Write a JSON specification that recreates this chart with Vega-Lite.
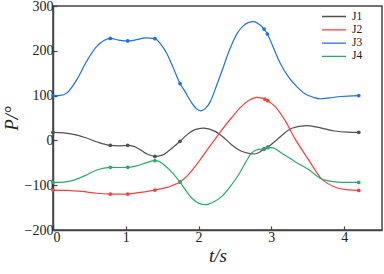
{
  "$schema": "https://vega.github.io/schema/vega-lite/v6.json",
  "autosize": {"type": "none"},
  "padding": {"left": 53, "top": 6, "right": 2, "bottom": 44},
  "width": 329,
  "height": 224,
  "config": {
    "font": "Times New Roman",
    "view": {"stroke": "#444444", "strokeWidth": 1.5},
    "axis": {
      "labelFont": "Times New Roman",
      "titleFont": "Times New Roman",
      "labelFontSize": 14,
      "titleFontSize": 19,
      "titleFontWeight": "normal",
      "titleFontStyle": "italic",
      "labelColor": "#222222",
      "titleColor": "#222222",
      "domainColor": "#444444",
      "domainWidth": 1.5,
      "tickColor": "#444444",
      "tickWidth": 1.2,
      "tickSize": -4,
      "grid": false
    },
    "legend": {
      "labelFont": "Times New Roman",
      "labelFontSize": 11.5,
      "labelColor": "#222222"
    }
  },
  "datasets": {
    "curve": [
      {"t": 0, "P": 18, "joint": "J1"}, {"t": 0.15, "P": 17, "joint": "J1"}, {"t": 0.3, "P": 13, "joint": "J1"}, {"t": 0.45, "P": 6, "joint": "J1"}, {"t": 0.6, "P": -3, "joint": "J1"}, {"t": 0.787, "P": -11, "joint": "J1"}, {"t": 0.9, "P": -12, "joint": "J1"}, {"t": 1.026, "P": -11, "joint": "J1"}, {"t": 1.12, "P": -14, "joint": "J1"}, {"t": 1.2, "P": -21, "joint": "J1"}, {"t": 1.3, "P": -31, "joint": "J1"}, {"t": 1.4, "P": -35.7, "joint": "J1"}, {"t": 1.5, "P": -33, "joint": "J1"}, {"t": 1.6, "P": -22, "joint": "J1"}, {"t": 1.745, "P": -2, "joint": "J1"}, {"t": 1.85, "P": 14, "joint": "J1"}, {"t": 1.95, "P": 24, "joint": "J1"}, {"t": 2.06, "P": 27.6, "joint": "J1"}, {"t": 2.15, "P": 25, "joint": "J1"}, {"t": 2.29, "P": 14, "joint": "J1"}, {"t": 2.45, "P": -9, "joint": "J1"}, {"t": 2.55, "P": -21, "joint": "J1"}, {"t": 2.64, "P": -27, "joint": "J1"}, {"t": 2.77, "P": -30.4, "joint": "J1"}, {"t": 2.85, "P": -25, "joint": "J1"}, {"t": 2.9, "P": -19, "joint": "J1"}, {"t": 2.95, "P": -15, "joint": "J1"}, {"t": 3.05, "P": -2, "joint": "J1"}, {"t": 3.15, "P": 12, "joint": "J1"}, {"t": 3.28, "P": 27, "joint": "J1"}, {"t": 3.48, "P": 33, "joint": "J1"}, {"t": 3.65, "P": 29, "joint": "J1"}, {"t": 3.87, "P": 21, "joint": "J1"}, {"t": 4.05, "P": 18.5, "joint": "J1"}, {"t": 4.2, "P": 18, "joint": "J1"},
      {"t": 0, "P": -110.8, "joint": "J2"}, {"t": 0.2, "P": -111.5, "joint": "J2"}, {"t": 0.4, "P": -114, "joint": "J2"}, {"t": 0.6, "P": -118, "joint": "J2"}, {"t": 0.787, "P": -119.7, "joint": "J2"}, {"t": 0.9, "P": -120, "joint": "J2"}, {"t": 1.026, "P": -119.7, "joint": "J2"}, {"t": 1.2, "P": -116, "joint": "J2"}, {"t": 1.4, "P": -110.8, "joint": "J2"}, {"t": 1.54, "P": -106, "joint": "J2"}, {"t": 1.65, "P": -100, "joint": "J2"}, {"t": 1.745, "P": -92.9, "joint": "J2"}, {"t": 1.85, "P": -78, "joint": "J2"}, {"t": 2.0, "P": -48, "joint": "J2"}, {"t": 2.15, "P": -14, "joint": "J2"}, {"t": 2.29, "P": 17, "joint": "J2"}, {"t": 2.45, "P": 50, "joint": "J2"}, {"t": 2.59, "P": 76, "joint": "J2"}, {"t": 2.7, "P": 90, "joint": "J2"}, {"t": 2.8, "P": 96, "joint": "J2"}, {"t": 2.87, "P": 94.5, "joint": "J2"}, {"t": 2.91, "P": 92.4, "joint": "J2"}, {"t": 2.95, "P": 88.6, "joint": "J2"}, {"t": 3.05, "P": 76, "joint": "J2"}, {"t": 3.19, "P": 44, "joint": "J2"}, {"t": 3.32, "P": 5, "joint": "J2"}, {"t": 3.51, "P": -43, "joint": "J2"}, {"t": 3.69, "P": -86, "joint": "J2"}, {"t": 3.87, "P": -104, "joint": "J2"}, {"t": 4.06, "P": -110.5, "joint": "J2"}, {"t": 4.2, "P": -111.6, "joint": "J2"},
      {"t": 0, "P": 100, "joint": "J3"}, {"t": 0.1, "P": 100.5, "joint": "J3"}, {"t": 0.19, "P": 106, "joint": "J3"}, {"t": 0.325, "P": 135, "joint": "J3"}, {"t": 0.46, "P": 176, "joint": "J3"}, {"t": 0.6, "P": 210, "joint": "J3"}, {"t": 0.7, "P": 223, "joint": "J3"}, {"t": 0.787, "P": 227.7, "joint": "J3"}, {"t": 0.9, "P": 224, "joint": "J3"}, {"t": 1.026, "P": 222, "joint": "J3"}, {"t": 1.15, "P": 225, "joint": "J3"}, {"t": 1.27, "P": 229, "joint": "J3"}, {"t": 1.4, "P": 227, "joint": "J3"}, {"t": 1.48, "P": 215, "joint": "J3"}, {"t": 1.56, "P": 195, "joint": "J3"}, {"t": 1.65, "P": 163, "joint": "J3"}, {"t": 1.745, "P": 127, "joint": "J3"}, {"t": 1.81, "P": 110, "joint": "J3"}, {"t": 1.905, "P": 84, "joint": "J3"}, {"t": 1.97, "P": 71, "joint": "J3"}, {"t": 2.03, "P": 66, "joint": "J3"}, {"t": 2.09, "P": 71, "joint": "J3"}, {"t": 2.16, "P": 86, "joint": "J3"}, {"t": 2.23, "P": 115, "joint": "J3"}, {"t": 2.31, "P": 150, "joint": "J3"}, {"t": 2.43, "P": 204, "joint": "J3"}, {"t": 2.53, "P": 239, "joint": "J3"}, {"t": 2.61, "P": 255, "joint": "J3"}, {"t": 2.68, "P": 263, "joint": "J3"}, {"t": 2.76, "P": 265, "joint": "J3"}, {"t": 2.84, "P": 258, "joint": "J3"}, {"t": 2.9, "P": 248.6, "joint": "J3"}, {"t": 2.945, "P": 237.5, "joint": "J3"}, {"t": 3.03, "P": 206, "joint": "J3"}, {"t": 3.12, "P": 173, "joint": "J3"}, {"t": 3.23, "P": 143, "joint": "J3"}, {"t": 3.35, "P": 120, "joint": "J3"}, {"t": 3.46, "P": 104, "joint": "J3"}, {"t": 3.58, "P": 96, "joint": "J3"}, {"t": 3.67, "P": 93, "joint": "J3"}, {"t": 3.8, "P": 95, "joint": "J3"}, {"t": 3.95, "P": 98, "joint": "J3"}, {"t": 4.2, "P": 100, "joint": "J3"},
      {"t": 0, "P": -93.7, "joint": "J4"}, {"t": 0.15, "P": -93, "joint": "J4"}, {"t": 0.3, "P": -88, "joint": "J4"}, {"t": 0.45, "P": -78, "joint": "J4"}, {"t": 0.6, "P": -66, "joint": "J4"}, {"t": 0.787, "P": -60, "joint": "J4"}, {"t": 0.9, "P": -60.5, "joint": "J4"}, {"t": 1.026, "P": -60, "joint": "J4"}, {"t": 1.15, "P": -57, "joint": "J4"}, {"t": 1.28, "P": -50, "joint": "J4"}, {"t": 1.4, "P": -45.3, "joint": "J4"}, {"t": 1.47, "P": -48, "joint": "J4"}, {"t": 1.54, "P": -56.5, "joint": "J4"}, {"t": 1.65, "P": -74, "joint": "J4"}, {"t": 1.745, "P": -92.9, "joint": "J4"}, {"t": 1.905, "P": -128.6, "joint": "J4"}, {"t": 2.0, "P": -140, "joint": "J4"}, {"t": 2.1, "P": -143.5, "joint": "J4"}, {"t": 2.2, "P": -138, "joint": "J4"}, {"t": 2.32, "P": -125, "joint": "J4"}, {"t": 2.45, "P": -100, "joint": "J4"}, {"t": 2.55, "P": -76.6, "joint": "J4"}, {"t": 2.65, "P": -48, "joint": "J4"}, {"t": 2.73, "P": -28, "joint": "J4"}, {"t": 2.82, "P": -20, "joint": "J4"}, {"t": 2.9, "P": -19.2, "joint": "J4"}, {"t": 2.95, "P": -16.3, "joint": "J4"}, {"t": 3.0, "P": -16, "joint": "J4"}, {"t": 3.05, "P": -18.5, "joint": "J4"}, {"t": 3.14, "P": -28, "joint": "J4"}, {"t": 3.32, "P": -47, "joint": "J4"}, {"t": 3.51, "P": -65, "joint": "J4"}, {"t": 3.69, "P": -86, "joint": "J4"}, {"t": 3.85, "P": -92, "joint": "J4"}, {"t": 3.97, "P": -93.7, "joint": "J4"}, {"t": 4.2, "P": -93.7, "joint": "J4"}
    ],
    "pts": [
      {"t": 0, "P": 18, "joint": "J1"}, {"t": 0.787, "P": -11, "joint": "J1"}, {"t": 1.026, "P": -11, "joint": "J1"}, {"t": 1.4, "P": -35.7, "joint": "J1"}, {"t": 1.745, "P": -2, "joint": "J1"}, {"t": 2.9, "P": -19, "joint": "J1"}, {"t": 2.95, "P": -15, "joint": "J1"}, {"t": 4.2, "P": 18, "joint": "J1"},
      {"t": 0, "P": -110.8, "joint": "J2"}, {"t": 0.787, "P": -119.7, "joint": "J2"}, {"t": 1.026, "P": -119.7, "joint": "J2"}, {"t": 1.4, "P": -110.8, "joint": "J2"}, {"t": 1.745, "P": -92.9, "joint": "J2"}, {"t": 2.91, "P": 92.4, "joint": "J2"}, {"t": 2.95, "P": 88.6, "joint": "J2"}, {"t": 4.2, "P": -111.6, "joint": "J2"},
      {"t": 0, "P": 100, "joint": "J3"}, {"t": 0.787, "P": 227.7, "joint": "J3"}, {"t": 1.026, "P": 222, "joint": "J3"}, {"t": 1.4, "P": 227, "joint": "J3"}, {"t": 1.745, "P": 127, "joint": "J3"}, {"t": 2.9, "P": 248.6, "joint": "J3"}, {"t": 2.945, "P": 237.5, "joint": "J3"}, {"t": 4.2, "P": 100, "joint": "J3"},
      {"t": 0, "P": -93.7, "joint": "J4"}, {"t": 0.787, "P": -60, "joint": "J4"}, {"t": 1.026, "P": -60, "joint": "J4"}, {"t": 1.4, "P": -45.3, "joint": "J4"}, {"t": 1.745, "P": -92.9, "joint": "J4"}, {"t": 2.9, "P": -19.2, "joint": "J4"}, {"t": 2.95, "P": -16.3, "joint": "J4"}, {"t": 4.2, "P": -93.7, "joint": "J4"}
    ]
  },
  "layer": [
    {
      "data": {"name": "curve"},
      "mark": {"type": "line", "interpolate": "monotone", "strokeWidth": 1.2, "clip": true},
      "encoding": {
        "x": {"field": "t", "type": "quantitative", "scale": {"domain": [0, 4.52], "nice": false, "zero": false},
          "axis": {"title": "t/s", "values": [0, 1, 2, 3, 4], "format": "d", "labelPadding": 4, "titlePadding": 2}},
        "y": {"field": "P", "type": "quantitative", "scale": {"domain": [-200, 300], "nice": false},
          "axis": {"title": "P/°", "values": [-200, -100, 0, 100, 200, 300], "labelPadding": 4, "titlePadding": 3}},
        "color": {"field": "joint", "type": "nominal",
          "scale": {"domain": ["J1", "J2", "J3", "J4"], "range": ["#505050", "#ff3c3c", "#1f6fe6", "#2aab68"]},
          "legend": {"title": null, "orient": "none", "legendX": 268, "legendY": 5, "symbolType": "stroke", "symbolSize": 576, "symbolStrokeWidth": 1.3, "clipHeight": 11, "rowPadding": 1.3, "labelOffset": 5, "padding": 0}}
      }
    },
    {
      "data": {"name": "pts"},
      "mark": {"type": "circle", "size": 14, "opacity": 1},
      "encoding": {
        "x": {"field": "t", "type": "quantitative"},
        "y": {"field": "P", "type": "quantitative"},
        "color": {"field": "joint", "type": "nominal", "legend": null}
      }
    }
  ]
}
